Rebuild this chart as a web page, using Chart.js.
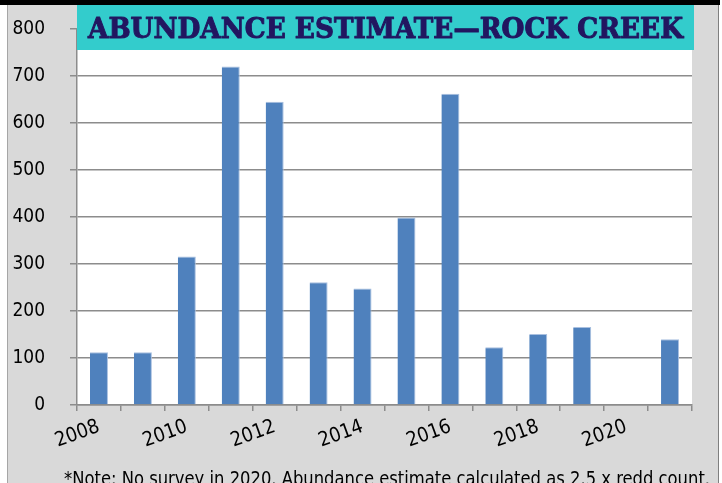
<!DOCTYPE html>
<html>
<head>
<meta charset="utf-8">
<script src="https://cdn.jsdelivr.net/npm/chart.js@4.4.1/dist/chart.umd.min.js"></script>
<style>
  html, body { margin: 0; padding: 0; background: #ffffff; }
  #wrap { width: 722px; height: 483px; overflow: hidden; }
</style>
</head>
<body>
<div id="wrap"><canvas id="c" width="722" height="483"></canvas></div>
<script>
// ---- data ----
const years = ['2008','2009','2010','2011','2012','2013','2014','2015','2016','2017','2018','2019','2020','2021'];
const abundance = [112, 112, 316, 720, 645, 261, 248, 399, 662, 123, 151, 166, null, 140];
const yTickValues = [0, 100, 200, 300, 400, 500, 600, 700, 800];
const labeledYears = ['2008','2010','2012','2014','2016','2018','2020'];
const titleText = 'ABUNDANCE ESTIMATE\u2014ROCK CREEK';
const noteText = '*Note: No survey in 2020. Abundance estimate calculated as 2.5 x redd count.';

const narrowFont = '"Liberation Sans Narrow", "DejaVu Sans Condensed", "Liberation Sans", sans-serif';
const gridColor = '#8c8c8c';

const framePlugin = {
  id: 'frame',
  beforeDraw(chart) {
    const ctx = chart.ctx;
    const a = chart.chartArea;
    ctx.save();
    ctx.fillStyle = '#ffffff';
    ctx.fillRect(0, 0, chart.width, chart.height);
    ctx.fillStyle = '#d9d9d9';
    ctx.fillRect(7, 5, 711, chart.height - 5);
    ctx.strokeStyle = '#a6a6a6';
    ctx.lineWidth = 1;
    ctx.beginPath(); ctx.moveTo(7.5, 5); ctx.lineTo(7.5, chart.height); ctx.stroke();
    ctx.strokeStyle = '#7f7f7f';
    ctx.beginPath(); ctx.moveTo(718.5, 5); ctx.lineTo(718.5, chart.height); ctx.stroke();
    ctx.fillStyle = '#000000';
    ctx.fillRect(0, 0, 720, 5);
    ctx.fillStyle = '#ffffff';
    ctx.fillRect(a.left, a.top, a.right - a.left, a.bottom - a.top);
    ctx.restore();
  },
  afterDraw(chart) {
    const ctx = chart.ctx;
    const a = chart.chartArea;
    ctx.save();
    // title box
    ctx.fillStyle = '#33cccc';
    ctx.fillRect(a.left, 5, 617, 45);
    ctx.font = 'bold 28px "DejaVu Serif", serif';
    ctx.fillStyle = '#221660';
    ctx.strokeStyle = '#221660';
    ctx.lineWidth = 1;
    ctx.lineJoin = 'round';
    ctx.textBaseline = 'alphabetic';
    ctx.textAlign = 'left';
    const w = ctx.measureText(titleText).width;
    const target = 595;
    ctx.translate(88, 38);
    ctx.scale(target / w, 1);
    ctx.fillText(titleText, 0, 0);
    ctx.strokeText(titleText, 0, 0);
    ctx.restore();
    // footnote
    ctx.save();
    ctx.font = '19px ' + narrowFont;
    ctx.fillStyle = '#000000';
    ctx.textAlign = 'left';
    ctx.textBaseline = 'alphabetic';
    const nw = ctx.measureText(noteText).width;
    const ntarget = 646;
    ctx.translate(64, 485);
    ctx.scale(ntarget / nw, 1);
    ctx.fillText(noteText, 0, 0);
    ctx.restore();
  }
};

new Chart(document.getElementById('c'), {
  type: 'bar',
  data: {
    labels: years,
    datasets: [{
      data: abundance,
      backgroundColor: '#4f81bd',
      borderColor: '#a9c0e0',
      borderWidth: { top: 1, right: 1, left: 0, bottom: 0 },
      borderSkipped: 'bottom',
      barPercentage: 0.41,
      categoryPercentage: 1.0
    }]
  },
  options: {
    responsive: false,
    devicePixelRatio: 1,
    animation: false,
    layout: { padding: { left: 0, right: 30, top: 29, bottom: 0 } },
    plugins: { legend: { display: false }, tooltip: { enabled: false }, title: { display: false } },
    scales: {
      x: {
        offset: true,
        grid: { offset: true, drawOnChartArea: false, drawTicks: true, tickLength: 6, color: gridColor, lineWidth: 1.5 },
        border: { color: gridColor, width: 1.5 },
        ticks: {
          autoSkip: false,
          minRotation: 20,
          maxRotation: 20,
          padding: 4,
          color: '#000000',
          font: { family: narrowFont, size: 20 },
          callback: function(value, index) {
            const y = years[index];
            return labeledYears.includes(y) ? y : '';
          }
        },
        afterFit: function(scale) { scale.height = 78; }
      },
      y: {
        min: 0,
        max: 800,
        afterBuildTicks: function(scale) { scale.ticks = yTickValues.map(v => ({ value: v })); },
        grid: { color: gridColor, lineWidth: 1.5, tickLength: 29, drawTicks: true, tickBorderDash: [0, 22, 7, 0] },
        border: { color: gridColor, width: 1.5 },
        ticks: {
          padding: 3,
          color: '#000000',
          font: { family: narrowFont, size: 19 }
        },
        afterFit: function(scale) { scale.width = 77; }
      }
    }
  },
  plugins: [framePlugin]
});
</script>
</body>
</html>
